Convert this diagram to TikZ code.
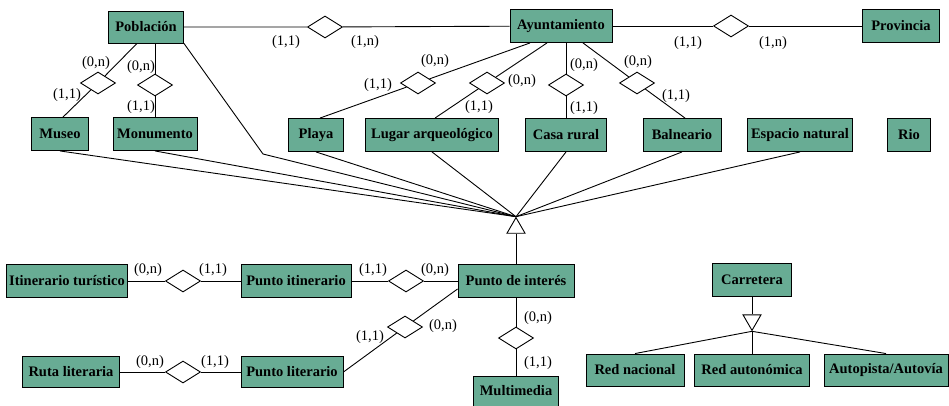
\documentclass[tikz,border=0pt]{standalone}
\usepackage{fontspec}
\setmainfont{Liberation Serif}
\usetikzlibrary{shapes.geometric}
\definecolor{entgreen}{RGB}{104,172,148}

\begin{document}
\begin{tikzpicture}[x=1pt, y=-1pt, line width=0.9pt,
  ent/.style={draw, fill=entgreen, minimum height=33pt, inner xsep=2pt, font=\fontsize{14.5}{16}\selectfont\bfseries},
  rel/.style={draw, fill=white, diamond, minimum width=35pt, minimum height=22pt, inner sep=0pt},
  isa/.style={draw, fill=white, regular polygon, regular polygon sides=3, minimum size=20.8pt, inner sep=0pt},
  card/.style={font=\fontsize{14.5}{16}\selectfont, inner sep=0pt}]
\useasboundingbox (0,0) rectangle (949,406);
\node[ent, minimum width=75pt, minimum height=32pt] (pob) at (146,27) {Población};
\node[ent, minimum width=102pt] (ayu) at (561,26) {Ayuntamiento};
\node[ent, minimum width=77pt] (prov) at (901,26) {Provincia};
\node[ent, minimum width=57pt] (mus) at (60,134) {Museo};
\node[ent, minimum width=84pt] (mon) at (155,134) {Monumento};
\node[ent, minimum width=55pt] (pla) at (316,135) {Playa};
\node[ent, minimum width=133pt] (lug) at (432,135) {Lugar arqueológico};
\node[ent, minimum width=81pt] (cas) at (566,135) {Casa rural};
\node[ent, minimum width=78pt] (bal) at (682,135) {Balneario};
\node[ent, minimum width=105pt] (esp) at (800,135) {Espacio natural};
\node[ent, minimum width=43pt] (rio) at (909,135) {Rio};
\node[ent, minimum width=121pt] (iti) at (67,281) {Itinerario turístico};
\node[ent, minimum width=110pt] (pit) at (296,281) {Punto itinerario};
\node[ent, minimum width=116pt] (pin) at (516,281) {Punto de interés};
\node[ent, minimum width=97pt, minimum height=31pt] (rut) at (71,372) {Ruta literaria};
\node[ent, minimum width=102pt, minimum height=31pt] (pli) at (292,372) {Punto literario};
\node[ent, minimum width=85pt, minimum height=30pt] (mul) at (516,391) {Multimedia};
\node[ent, minimum width=79pt] (car) at (752,280) {Carretera};
\node[ent, minimum width=98pt, minimum height=32pt] (rna) at (635,370) {Red nacional};
\node[ent, minimum width=115pt, minimum height=32pt] (rau) at (752,370) {Red autonómica};
\node[ent, minimum width=124pt, minimum height=32pt] (aut) at (886,370) {Autopista/Autovía};

\node[rel] (rpa) at (325,27) {};
\node[rel] (rap) at (731,26) {};
\node[rel] (rmu) at (98,83) {};
\node[rel] (rmo) at (155,85) {};
\node[rel] (rpl) at (418,83) {};
\node[rel] (rlu) at (487,83) {};
\node[rel] (rca) at (566,85) {};
\node[rel] (rba) at (637,83) {};
\node[rel] (rit) at (183,281) {};
\node[rel] (rpi) at (406,281) {};
\node[rel] (rru) at (183,372) {};
\node[rel] (rli) at (405,327) {};
\node[rel] (rmm) at (516,338) {};

\node[isa] (gen) at (516,228) {};
\node[isa, shape border rotate=180] (gcar) at (752,320) {};

\draw (pob) -- (rpa) -- (ayu);
\draw (ayu) -- (rap) -- (prov);
\draw ([xshift=-9pt]pob.south) -- (rmu) -- ([xshift=3pt]mus.north);
\draw (pob.south -| rmo) -- (rmo) -- (mon);
\draw ([xshift=-31pt]ayu.south) -- (rpl) -- ([xshift=4pt]pla.north);
\draw ([xshift=-14pt]ayu.south) -- (rlu) -- ([xshift=3pt]lug.north);
\draw (ayu.south -| rca) -- (rca) -- (cas);
\draw ([xshift=22pt]ayu.south) -- (rba) -- ([xshift=3pt]bal.north);
\draw (iti) -- (rit) -- (pit);
\draw (pit) -- (rpi) -- (pin);
\draw (rut) -- (rru) -- (pli);
\draw (pli.east) -- (rli) -- ([yshift=-8pt]pin.west);
\draw (pin) -- (rmm) -- (mul);

\coordinate (pobk) at (263,154);
\draw (pob.south east) -- (pobk) -- (gen.corner 1);
\foreach \e in {mus,mon,pla,lug,cas,bal,esp}
  \draw (\e.south) -- (gen.corner 1);
\draw (gen) -- (pin);
\draw (car) -- (gcar);
\foreach \e in {rna,rau,aut}
  \draw (gcar.corner 1) -- (\e.north);

\node[card] (c1) at (96,63) {(0,n)};
\node[card] (c2) at (67,95) {(1,1)};
\node[card] (c3) at (141,67) {(0,n)};
\node[card] (c4) at (141,107) {(1,1)};
\node[card] (c5) at (286,42) {(1,1)};
\node[card] (c6) at (365,42) {(1,n)};
\node[card] (c7) at (688,43) {(1,1)};
\node[card] (c8) at (773,43) {(1,n)};
\node[card] (c9) at (435,61) {(0,n)};
\node[card] (c10) at (378,85) {(1,1)};
\node[card] (c11) at (522,81) {(0,n)};
\node[card] (c12) at (479,107) {(1,1)};
\node[card] (c13) at (584,65) {(0,n)};
\node[card] (c14) at (584,108) {(1,1)};
\node[card] (c15) at (638,62) {(0,n)};
\node[card] (c16) at (676,96) {(1,1)};
\node[card] (c17) at (148,270) {(0,n)};
\node[card] (c18) at (213,270) {(1,1)};
\node[card] (c19) at (373,270) {(1,1)};
\node[card] (c20) at (435,270) {(0,n)};
\node[card] (c21) at (150,362) {(0,n)};
\node[card] (c22) at (215,362) {(1,1)};
\node[card] (c23) at (370,337) {(1,1)};
\node[card] (c24) at (443,326) {(0,n)};
\node[card] (c25) at (538,318) {(0,n)};
\node[card] (c26) at (538,363) {(1,1)};
\end{tikzpicture}
\end{document}
